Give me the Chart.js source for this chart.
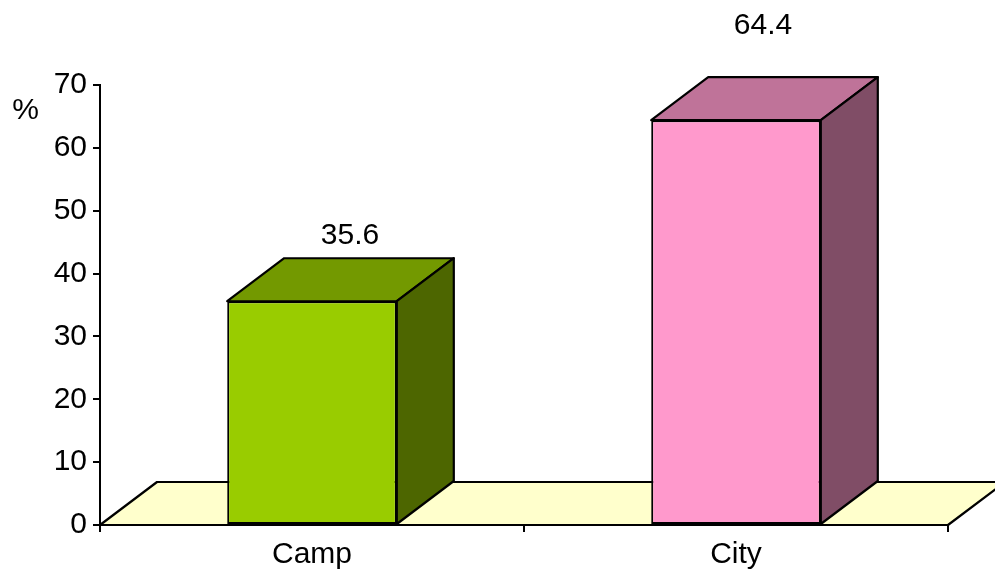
<!DOCTYPE html>
<html>
<head>
<meta charset="utf-8">
<script src="https://cdn.jsdelivr.net/npm/chart.js@4/dist/chart.umd.min.js"></script>
<style>
  html, body { margin: 0; padding: 0; background: #fff; }
  #wrap { width: 995px; height: 580px; }
</style>
</head>
<body>
<div id="wrap"><canvas id="c" width="995" height="580"></canvas></div>
<script>
// Share of respondents by place of residence (%)
const categories = ['Camp', 'City'];
const shares = [35.6, 64.4];
const yTicks = [0, 10, 20, 30, 40, 50, 60, 70];

// Face colours for each box: front, top, side
const frontColors = ['#99CC00', '#FF99CC'];
const topColors = ['#739900', '#BF7399'];
const sideColors = ['#4D6600', '#804D66'];

const FONT = '"Liberation Sans", Arial, sans-serif';
const FONT_SIZE = 30;

function poly(ctx, pts, fill) {
  ctx.beginPath();
  ctx.moveTo(pts[0][0], pts[0][1]);
  for (let k = 1; k < pts.length; k++) ctx.lineTo(pts[k][0], pts[k][1]);
  ctx.closePath();
  ctx.fillStyle = fill;
  ctx.fill();
  ctx.lineWidth = 2.2;
  ctx.lineJoin = 'round';
  ctx.strokeStyle = '#000';
  ctx.stroke();
}

// Draws the floor, the top/side faces of each bar, the value labels and the unit label
const depthPlugin = {
  id: 'depth3d',
  beforeDatasetsDraw(chart, args, opts) {
    const { ctx, chartArea: a } = chart;
    ctx.save();
    poly(ctx, [
      [a.left, a.bottom],
      [a.left + opts.dx, a.bottom + opts.dy],
      [a.right + opts.dx, a.bottom + opts.dy],
      [a.right, a.bottom]
    ], opts.floorColor);
    ctx.restore();
  },
  afterDatasetsDraw(chart, args, opts) {
    const { ctx } = chart;
    const dx = opts.dx, dy = opts.dy;
    const meta = chart.getDatasetMeta(0);
    ctx.save();
    meta.data.forEach((bar, i) => {
      const { x, y, base, width } = bar.getProps(['x', 'y', 'base', 'width'], true);
      const l = x - width / 2, r = x + width / 2;
      poly(ctx, [[l, y], [l + dx, y + dy], [r + dx, y + dy], [r, y]], topColors[i]);
      poly(ctx, [[r, y], [r + dx, y + dy], [r + dx, base + dy], [r, base]], sideColors[i]);
      // value label above the box
      const s = opts.labelShift[i];
      ctx.fillStyle = '#000';
      ctx.font = FONT_SIZE + 'px ' + FONT;
      ctx.textAlign = 'center';
      ctx.textBaseline = 'alphabetic';
      ctx.fillText(shares[i].toFixed(1), x + dx + s[0], y + dy + s[1]);
    });
    // unit label beside the value axis
    ctx.fillStyle = '#000';
    ctx.font = FONT_SIZE + 'px ' + FONT;
    ctx.textAlign = 'center';
    ctx.textBaseline = 'alphabetic';
    ctx.fillText('%', 25.5, 119);
    ctx.restore();
  }
};

new Chart(document.getElementById('c'), {
  type: 'bar',
  data: {
    labels: categories,
    datasets: [{
      data: shares,
      backgroundColor: frontColors,
      borderColor: '#000',
      borderWidth: 2,
      borderSkipped: false,
      barPercentage: 0.4,
      categoryPercentage: 1.0
    }]
  },
  options: {
    responsive: false,
    animation: false,
    events: [],
    layout: { padding: { top: 85, right: 47, left: 0, bottom: 0 } },
    plugins: {
      legend: { display: false },
      tooltip: { enabled: false },
      depth3d: {
        dx: 57,
        dy: -43,
        floorColor: '#FFFFCC',
        labelShift: [[-19, -14], [-30, -43]]
      }
    },
    scales: {
      x: {
        offset: true,
        grid: {
          offset: true,
          drawOnChartArea: false,
          tickLength: 7,
          color: '#000',
          lineWidth: 2
        },
        border: { color: '#000', width: 2 },
        ticks: { color: '#000', font: { family: FONT, size: FONT_SIZE }, padding: 5 },
        afterFit(scale) { scale.height = 55; }
      },
      y: {
        min: 0,
        max: 70,
        afterBuildTicks(scale) { scale.ticks = yTicks.map(v => ({ value: v })); },
        grid: {
          drawOnChartArea: false,
          tickLength: 7,
          color: '#000',
          lineWidth: 2
        },
        border: { color: '#000', width: 2 },
        ticks: { color: '#000', font: { family: FONT, size: FONT_SIZE }, padding: 6 },
        afterFit(scale) { scale.width = 100; }
      }
    }
  },
  plugins: [depthPlugin]
});
</script>
</body>
</html>
